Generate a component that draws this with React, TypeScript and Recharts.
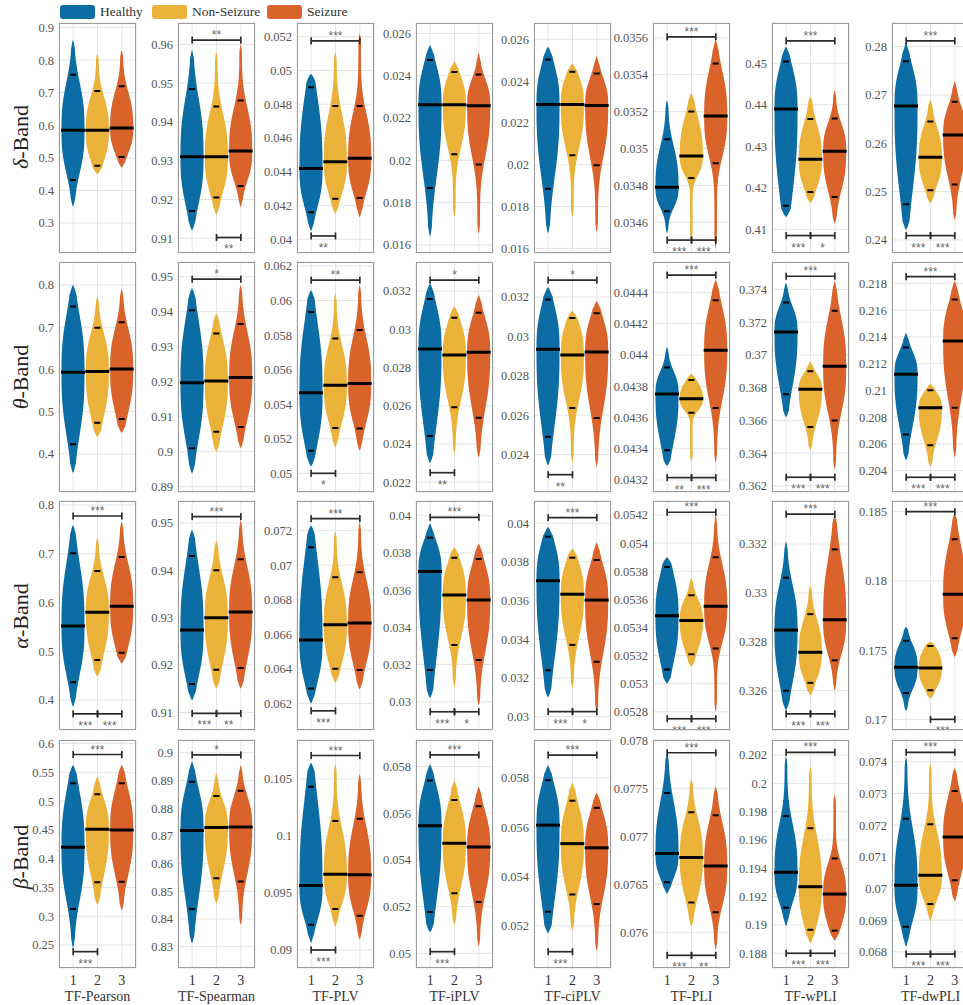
import { ComposedChart, Bar, XAxis, YAxis, CartesianGrid, ReferenceLine } from 'recharts'

const GROUPS = ['1', '2', '3']
const SERIES = ['Healthy', 'Non-Seizure', 'Seizure']
const METRICS = ['TF-Pearson', 'TF-Spearman', 'TF-PLV', 'TF-iPLV', 'TF-ciPLV', 'TF-PLI', 'TF-wPLI', 'TF-dwPLI']
const BANDS = ['δ', 'θ', 'α', 'β']

// y-axis ranges, one [lo, hi] per metric
const DELTA_RANGE = [[0.208, 0.914], [0.9062, 0.9655], [0.03919, 0.05281], [0.01562, 0.02649], [0.01578, 0.02678], [0.034434, 0.03568], [0.4043, 0.4597], [0.2373, 0.2849]]
const THETA_RANGE = [[0.31, 0.8544], [0.8885, 0.9542], [0.04892, 0.06223], [0.02149, 0.03352], [0.0221, 0.03378], [0.043123, 0.044594], [0.36163, 0.37567], [0.2024, 0.2196]]
const ALPHA_RANGE = [[0.3385, 0.8082], [0.9063, 0.9546], [0.06046, 0.07372], [0.02848, 0.04079], [0.02931, 0.04115], [0.05267, 0.0543], [0.32439, 0.33376], [0.16923, 0.18577]]
const BETA_RANGE = [[0.21, 0.6061], [0.8223, 0.9046], [0.08842, 0.1084], [0.04937, 0.05914], [0.05029, 0.05953], [0.075628, 0.078003], [0.18696, 0.20306], [0.06749, 0.07469]]

// tick labels
const DELTA_TICKS = [
  [0.3, 0.4, 0.5, 0.6, 0.7, 0.8, 0.9], [0.91, 0.92, 0.93, 0.94, 0.95, 0.96], [0.04, 0.042, 0.044, 0.046, 0.048, 0.05, 0.052],
  [0.016, 0.018, 0.02, 0.022, 0.024, 0.026], [0.016, 0.018, 0.02, 0.022, 0.024, 0.026], [0.0346, 0.0348, 0.035, 0.0352, 0.0354, 0.0356],
  [0.41, 0.42, 0.43, 0.44, 0.45], [0.24, 0.25, 0.26, 0.27, 0.28],
]
const THETA_TICKS = [
  [0.4, 0.5, 0.6, 0.7, 0.8], [0.89, 0.9, 0.91, 0.92, 0.93, 0.94, 0.95], [0.05, 0.052, 0.054, 0.056, 0.058, 0.06, 0.062],
  [0.022, 0.024, 0.026, 0.028, 0.03, 0.032], [0.024, 0.026, 0.028, 0.03, 0.032], [0.0432, 0.0434, 0.0436, 0.0438, 0.044, 0.0442, 0.0444],
  [0.362, 0.364, 0.366, 0.368, 0.37, 0.372, 0.374], [0.204, 0.206, 0.208, 0.21, 0.212, 0.214, 0.216, 0.218],
]
const ALPHA_TICKS = [
  [0.4, 0.5, 0.6, 0.7, 0.8], [0.91, 0.92, 0.93, 0.94, 0.95], [0.062, 0.064, 0.066, 0.068, 0.07, 0.072],
  [0.03, 0.032, 0.034, 0.036, 0.038, 0.04], [0.03, 0.032, 0.034, 0.036, 0.038, 0.04], [0.0528, 0.053, 0.0532, 0.0534, 0.0536, 0.0538, 0.054, 0.0542],
  [0.326, 0.328, 0.33, 0.332], [0.17, 0.175, 0.18, 0.185],
]
const BETA_TICKS = [
  [0.25, 0.3, 0.35, 0.4, 0.45, 0.5, 0.55, 0.6], [0.83, 0.84, 0.85, 0.86, 0.87, 0.88, 0.89, 0.9], [0.09, 0.095, 0.1, 0.105],
  [0.05, 0.052, 0.054, 0.056, 0.058], [0.052, 0.054, 0.056, 0.058], [0.076, 0.0765, 0.077, 0.0775, 0.078],
  [0.188, 0.19, 0.192, 0.194, 0.196, 0.198, 0.2, 0.202], [0.068, 0.069, 0.07, 0.071, 0.072, 0.073, 0.074],
]

// violins: per metric, per group [min, lower mark, median, upper mark, max]
const DELTA_VIOLINS = [
  [[0.35, 0.432, 0.585, 0.755, 0.862], [0.45, 0.476, 0.585, 0.705, 0.82], [0.47, 0.503, 0.592, 0.72, 0.83]],
  [[0.912, 0.917, 0.931, 0.9485, 0.9585], [0.916, 0.9205, 0.931, 0.944, 0.958], [0.918, 0.9235, 0.9325, 0.9455, 0.96]],
  [[0.0405, 0.0416, 0.0442, 0.049, 0.0498], [0.0415, 0.0424, 0.0446, 0.0479, 0.0511], [0.0413, 0.04245, 0.0448, 0.0479, 0.0522]],
  [[0.01639, 0.01869, 0.02263, 0.02474, 0.02545], [0.01733, 0.02029, 0.02263, 0.02417, 0.02469], [0.01654, 0.0198, 0.02258, 0.02406, 0.0251]],
  [[0.01672, 0.01885, 0.02288, 0.02504, 0.02565], [0.0175, 0.02045, 0.02288, 0.02445, 0.02485], [0.0168, 0.01998, 0.02283, 0.02436, 0.0252]],
  [[0.03454, 0.03466, 0.03479, 0.03505, 0.03526], [0.0345, 0.03484, 0.03496, 0.0352, 0.0353], [0.03446, 0.03492, 0.035176, 0.03546, 0.03559]],
  [[0.413, 0.4157, 0.439, 0.4504, 0.454], [0.4163, 0.419, 0.4269, 0.4366, 0.442], [0.4114, 0.4178, 0.4288, 0.4367, 0.4435]],
  [[0.2421, 0.2474, 0.2677, 0.277, 0.2807], [0.2476, 0.2503, 0.2571, 0.2645, 0.269], [0.2442, 0.2515, 0.2617, 0.2686, 0.2728]],
]
const THETA_VIOLINS = [
  [[0.355, 0.4229, 0.5935, 0.749, 0.8], [0.44, 0.474, 0.5955, 0.699, 0.772], [0.45, 0.4828, 0.601, 0.712, 0.79]],
  [[0.8938, 0.901, 0.9197, 0.9404, 0.9467], [0.9, 0.9057, 0.9202, 0.9338, 0.9395], [0.901, 0.9071, 0.9212, 0.9365, 0.9476]],
  [[0.0504, 0.05131, 0.05466, 0.05933, 0.0606], [0.0515, 0.05262, 0.0551, 0.0578, 0.0604], [0.0513, 0.0526, 0.0552, 0.0583, 0.0609]],
  [[0.023, 0.02442, 0.02897, 0.03158, 0.0324], [0.0235, 0.02592, 0.02866, 0.0306, 0.0312], [0.0233, 0.02537, 0.0288, 0.03086, 0.0318]],
  [[0.02346, 0.0249, 0.02935, 0.03188, 0.03251], [0.0236, 0.02637, 0.02906, 0.03094, 0.0313], [0.0234, 0.02586, 0.02921, 0.03118, 0.0318]],
  [[0.04329, 0.04339, 0.04375, 0.04392, 0.04405], [0.04332, 0.04363, 0.04372, 0.04384, 0.04388], [0.04331, 0.04366, 0.04403, 0.04435, 0.04448]],
  [[0.3662, 0.3676, 0.3714, 0.3732, 0.3744], [0.3642, 0.3656, 0.3679, 0.369, 0.3696], [0.363, 0.366, 0.3693, 0.3727, 0.3745]],
  [[0.2048, 0.2067, 0.2112, 0.2132, 0.2143], [0.2043, 0.2059, 0.2087, 0.21, 0.2105], [0.205, 0.2087, 0.2137, 0.2168, 0.2182]],
]
const ALPHA_VIOLINS = [
  [[0.386, 0.4364, 0.5518, 0.701, 0.759], [0.448, 0.482, 0.58, 0.6646, 0.733], [0.475, 0.497, 0.5923, 0.6935, 0.7658]],
  [[0.9126, 0.916, 0.9274, 0.943, 0.9485], [0.915, 0.919, 0.93, 0.94, 0.9463], [0.915, 0.9194, 0.9312, 0.9423, 0.9505]],
  [[0.062, 0.06287, 0.06567, 0.07104, 0.0723], [0.0632, 0.064, 0.06655, 0.0693, 0.072], [0.0628, 0.06394, 0.06665, 0.0696, 0.0725]],
  [[0.0302, 0.0317, 0.037, 0.03882, 0.0396], [0.0308, 0.03305, 0.03574, 0.03774, 0.0383], [0.0298, 0.03224, 0.03547, 0.03767, 0.0385]],
  [[0.031, 0.0324, 0.03703, 0.03931, 0.0398], [0.0315, 0.03371, 0.03633, 0.03822, 0.0387], [0.0302, 0.03284, 0.03603, 0.0381, 0.039]],
  [[0.053, 0.0531, 0.053483, 0.05383, 0.0539], [0.05312, 0.05321, 0.05345, 0.05363, 0.05375], [0.0528, 0.05325, 0.05355, 0.0539, 0.0542]],
  [[0.3252, 0.326, 0.32848, 0.33062, 0.3321], [0.3258, 0.32632, 0.32757, 0.32913, 0.3303], [0.326, 0.32724, 0.3289, 0.33178, 0.3332]],
  [[0.1706, 0.1719, 0.17377, 0.17568, 0.1767], [0.1715, 0.1721, 0.1737, 0.1753, 0.1756], [0.1745, 0.17585, 0.17903, 0.183, 0.1849]],
]
const BETA_VIOLINS = [
  [[0.245, 0.3125, 0.4197, 0.5309, 0.5628], [0.32, 0.3589, 0.4509, 0.5117, 0.5426], [0.31, 0.36, 0.4497, 0.5309, 0.5628]],
  [[0.8312, 0.8436, 0.8719, 0.8895, 0.8968], [0.8455, 0.8547, 0.873, 0.8844, 0.8926], [0.8378, 0.8535, 0.8732, 0.8863, 0.8955]],
  [[0.0906, 0.0922, 0.09564, 0.1043, 0.1064], [0.092, 0.0936, 0.09664, 0.1013, 0.1063], [0.0909, 0.093, 0.0966, 0.1015, 0.1054]],
  [[0.0509, 0.05177, 0.05547, 0.0574, 0.0581], [0.0512, 0.05257, 0.05472, 0.05657, 0.0574], [0.0503, 0.0522, 0.05455, 0.0563, 0.05714]],
  [[0.0517, 0.05257, 0.05608, 0.0579, 0.0585], [0.0518, 0.05327, 0.05533, 0.05707, 0.0578], [0.051, 0.05288, 0.05516, 0.05678, 0.0574]],
  [[0.0764, 0.07652, 0.07682, 0.07745, 0.07786], [0.07606, 0.07631, 0.07678, 0.07725, 0.0776], [0.07582, 0.07621, 0.07669, 0.07722, 0.07752]],
  [[0.1899, 0.19122, 0.19372, 0.19769, 0.2019], [0.1887, 0.18966, 0.1927, 0.19683, 0.2012], [0.1889, 0.1896, 0.19218, 0.1947, 0.1992]],
  [[0.06816, 0.06879, 0.0701, 0.0722, 0.07416], [0.06895, 0.06951, 0.07042, 0.07203, 0.07395], [0.0696, 0.07026, 0.07163, 0.07308, 0.0738]],
]

// significance brackets: [from group, to group, y value, number of stars]
const DELTA_SIG = [
  [],
  [[1, 3, 0.9611, 2], [2, 3, 0.9102, 2]],
  [[1, 3, 0.05175, 3], [1, 2, 0.0402, 2]],
  [],
  [],
  [[1, 3, 0.035605, 3], [1, 2, 0.034504, 3], [2, 3, 0.034504, 3]],
  [[1, 3, 0.4554, 3], [1, 2, 0.4085, 3], [2, 3, 0.4085, 1]],
  [[1, 3, 0.2812, 3], [1, 2, 0.2409, 3], [2, 3, 0.2409, 3]],
]
const THETA_SIG = [
  [],
  [[1, 3, 0.9493, 1]],
  [[1, 3, 0.06118, 2], [1, 2, 0.05, 1]],
  [[1, 3, 0.03257, 1], [1, 2, 0.0225, 2]],
  [[1, 3, 0.03286, 1], [1, 2, 0.02298, 2]],
  [[1, 3, 0.04451, 3], [1, 2, 0.043215, 2], [2, 3, 0.043215, 3]],
  [[1, 3, 0.3748, 3], [1, 2, 0.36253, 3], [2, 3, 0.36253, 3]],
  [[1, 3, 0.2185, 3], [1, 2, 0.2035, 3], [2, 3, 0.2035, 3]],
]
const ALPHA_SIG = [
  [[1, 3, 0.7774, 3], [1, 2, 0.3716, 3], [2, 3, 0.3716, 3]],
  [[1, 3, 0.9513, 3], [1, 2, 0.9098, 3], [2, 3, 0.9098, 2]],
  [[1, 3, 0.0727, 3], [1, 2, 0.06157, 3]],
  [[1, 3, 0.03991, 3], [1, 2, 0.02946, 3], [2, 3, 0.02946, 1]],
  [[1, 3, 0.04029, 3], [1, 2, 0.03026, 3], [2, 3, 0.03026, 1]],
  [[1, 3, 0.05422, 3], [1, 2, 0.05275, 3], [2, 3, 0.05275, 3]],
  [[1, 3, 0.33322, 3], [1, 2, 0.32505, 3], [2, 3, 0.32505, 3]],
  [[1, 3, 0.185, 3], [2, 3, 0.17, 3]],
]
const BETA_SIG = [
  [[1, 3, 0.5809, 3], [1, 2, 0.2384, 3]],
  [[1, 3, 0.8992, 1]],
  [[1, 3, 0.10704, 3], [1, 2, 0.09, 3]],
  [[1, 3, 0.0585, 3], [1, 2, 0.05007, 3]],
  [[1, 3, 0.05892, 3], [1, 2, 0.05095, 3]],
  [[1, 3, 0.07787, 3], [1, 2, 0.07576, 3], [2, 3, 0.07576, 2]],
  [[1, 3, 0.20219, 3], [1, 2, 0.188, 3], [2, 3, 0.188, 3]],
  [[1, 3, 0.0743, 3], [1, 2, 0.06793, 3], [2, 3, 0.06793, 3]],
]

const RANGES = [DELTA_RANGE, THETA_RANGE, ALPHA_RANGE, BETA_RANGE]
const TICKS = [DELTA_TICKS, THETA_TICKS, ALPHA_TICKS, BETA_TICKS]
const VIOLINS = [DELTA_VIOLINS, THETA_VIOLINS, ALPHA_VIOLINS, BETA_VIOLINS]
const SIGS = [DELTA_SIG, THETA_SIG, ALPHA_SIG, BETA_SIG]

const COLORS = ['#0b6da3', '#ebb23a', '#d9632b']
const FONT = '"Liberation Serif", "DejaVu Serif", serif'
const COL_X = [59, 178, 297, 416, 534, 653, 772, 892]
const ROW_Y = [23, 262, 501, 740]
const ROW_H = [230, 230, 229, 228]
const PLOT_W = 77
const AXIS_W = 50

function fmt(v: number) {
  return String(parseFloat(v.toPrecision(6)))
}

function violinShape(props: any) {
  const { x, y, width, height, payload } = props
  const [lo, q1, med, q3, hi] = payload.stats
  const color = COLORS[GROUPS.indexOf(payload.g)]
  const top = Math.min(y, y + height)
  const bot = Math.max(y, y + height)
  const py = (v: number) => bot - ((v - lo) / (hi - lo)) * (bot - top)
  const cx = x + width / 2
  const H = width * 0.48
  // spread above / below the median, from the percentile marks
  const sUp = ((q3 - med) / 1.645) * 1.3
  const sDn = ((med - q1) / 1.645) * 1.3
  const half = (v: number) => {
    const z = Math.abs((v - med) / (v > med ? sUp : sDn))
    const t = (v - lo) / (hi - lo)
    const edge = Math.pow(Math.max(0, Math.min(1, Math.min(t, 1 - t) / 0.05)), 0.6)
    return H * (0.89 * Math.exp(-0.5 * Math.pow(z, 2.8)) + 0.11) * edge
  }
  const n = 100
  const right: string[] = []
  const left: string[] = []
  for (let i = 0; i <= n; i++) {
    const v = lo + ((hi - lo) * i) / n
    const w = half(v)
    right.push(`${(cx + w).toFixed(2)},${py(v).toFixed(2)}`)
    left.unshift(`${(cx - w).toFixed(2)},${py(v).toFixed(2)}`)
  }
  const d = `M${right.join('L')}L${left.join('L')}Z`
  const wm = half(med) + 0.5
  return (
    <g>
      <path d={d} fill={color} />
      <line x1={cx - wm} x2={cx + wm} y1={py(med)} y2={py(med)} stroke="#000" strokeWidth={3} />
      <line x1={cx - 3} x2={cx + 3} y1={py(q1)} y2={py(q1)} stroke="#000" strokeWidth={2} />
      <line x1={cx - 3} x2={cx + 3} y1={py(q3)} y2={py(q3)} stroke="#000" strokeWidth={2} />
    </g>
  )
}

function bracketShape(stars: number, above: boolean) {
  return (p: any) => {
    const { x1, y1, x2 } = p
    const c = '#2b2b2b'
    return (
      <g>
        <line x1={x1} x2={x2} y1={y1} y2={y1} stroke={c} strokeWidth={1.7} />
        <line x1={x1} x2={x1} y1={y1 - 3.5} y2={y1 + 3.5} stroke={c} strokeWidth={1.7} />
        <line x1={x2} x2={x2} y1={y1 - 3.5} y2={y1 + 3.5} stroke={c} strokeWidth={1.7} />
        <text
          x={(x1 + x2) / 2}
          y={above ? y1 - 1 : y1 + 16}
          textAnchor="middle"
          fontSize={12}
          fontFamily='"Liberation Sans", sans-serif'
          fill="#6a6a6a"
        >
          {'*'.repeat(stars)}
        </text>
      </g>
    )
  }
}

function Panel({ band, m }: { band: number; m: number }) {
  const range = RANGES[band][m]
  const ticks = TICKS[band][m]
  const v = VIOLINS[band][m]
  const sig = SIGS[band][m]
  const last = band === 3
  const h = ROW_H[band]
  const data = GROUPS.map((g, i) => ({ g, range: [v[i][0], v[i][4]], stats: v[i] }))

  return (
    <div style={{ position: 'absolute', left: COL_X[m] - AXIS_W, top: ROW_Y[band] - 8 }}>
      <ComposedChart
        width={AXIS_W + PLOT_W + 8}
        height={8 + h + (last ? 36 : 8)}
        data={data}
        margin={{ top: 8, right: 8, bottom: last ? 0 : 8, left: 0 }}
        barCategoryGap="0%"
        barGap={0}
      >
        <CartesianGrid stroke="#e4e4e4" />
        <XAxis
          dataKey="g"
          hide={!last}
          height={last ? 36 : 0}
          padding={{ left: 2, right: 2 }}
          tickLine={false}
          axisLine={false}
          tickSize={0}
          tickMargin={7}
          tick={{ fontSize: 14, fill: '#333', fontFamily: FONT }}
          label={last ? { value: METRICS[m], position: 'insideBottom', offset: 3, style: { fontSize: 14, fill: '#333', fontFamily: FONT } } : undefined}
        />
        <YAxis
          type="number"
          width={AXIS_W}
          domain={range}
          ticks={ticks}
          interval={0}
          allowDataOverflow
          tickFormatter={fmt}
          tickLine={false}
          axisLine={false}
          tickSize={0}
          tickMargin={5}
          tick={{ fontSize: 12.5, fill: '#555', fontFamily: FONT }}
        />
        <Bar dataKey="range" shape={violinShape} isAnimationActive={false} />
        {sig.map((s, i) => (
          <ReferenceLine
            key={i}
            segment={[{ x: String(s[0]), y: s[2] }, { x: String(s[1]), y: s[2] }]}
            ifOverflow="visible"
            shape={bracketShape(s[3], s[1] - s[0] === 2)}
          />
        ))}
      </ComposedChart>
      <div
        style={{
          position: 'absolute',
          left: AXIS_W,
          top: 8,
          width: PLOT_W,
          height: h,
          border: '1px solid #9c9c9c',
          boxSizing: 'border-box',
          pointerEvents: 'none',
        }}
      />
    </div>
  )
}

const ROW_LABEL_Y = [137, 377, 616, 857]
const LEGEND_X = [60, 152, 267]

export default function App() {
  return (
    <div style={{ position: 'relative', width: 963, height: 1005, overflow: 'hidden', background: '#fff', fontFamily: FONT }}>
      <style>{'body{margin:0}'}</style>
      {LEGEND_X.map((lx, i) => (
        <div key={SERIES[i]} style={{ position: 'absolute', left: lx, top: 5, display: 'flex', alignItems: 'center' }}>
          <div style={{ width: 35, height: 14, borderRadius: 3, background: COLORS[i] }} />
          <span style={{ marginLeft: 5, fontSize: 13.5, color: '#333', lineHeight: '14px' }}>{SERIES[i]}</span>
        </div>
      ))}
      <svg width={40} height={1005} style={{ position: 'absolute', left: 0, top: 0 }}>
        {BANDS.map((b, i) => (
          <text
            key={b}
            transform={`translate(28, ${ROW_LABEL_Y[i]}) rotate(-90)`}
            textAnchor="middle"
            fontSize={22}
            fontFamily={FONT}
            fill="#222"
          >
            <tspan fontStyle="italic">{b}</tspan>-Band
          </text>
        ))}
      </svg>
      {BANDS.map((_, band) => METRICS.map((__, m) => <Panel key={`${band}-${m}`} band={band} m={m} />))}
    </div>
  )
}
